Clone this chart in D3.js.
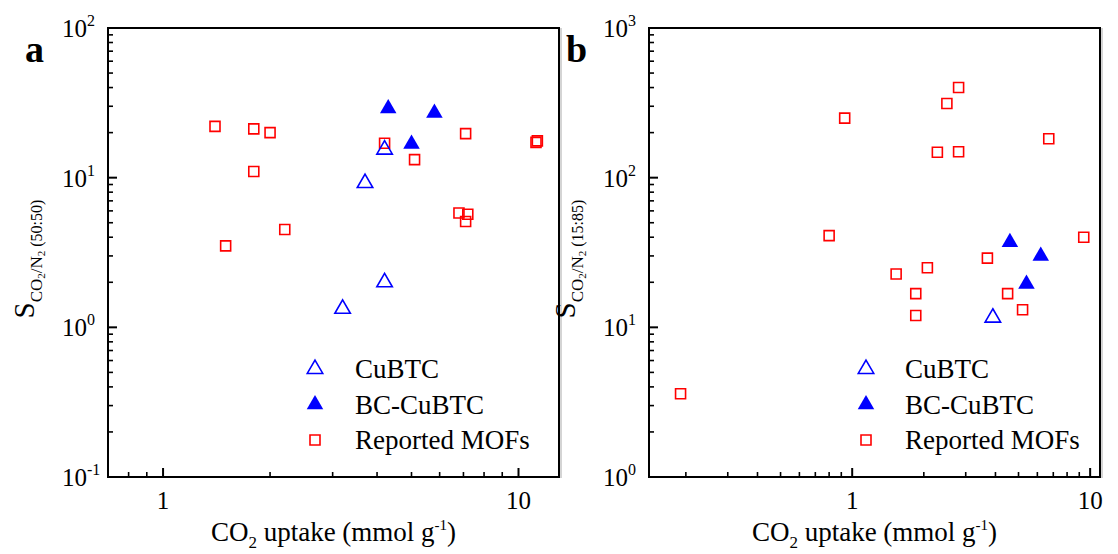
<!DOCTYPE html>
<html>
<head>
<meta charset="utf-8">
<script src="https://cdn.jsdelivr.net/npm/d3@7"></script>
<style>
    html, body { margin: 0; padding: 0; background: #fff; }
    svg { display: block; font-family: "Liberation Serif", "Times New Roman", serif; }
</style>
</head>
<body>
<svg id="chart" width="1118" height="554"></svg>
<script>
// ============================================
// CO2 uptake vs CO2/N2 selectivity, two panels
// ============================================

// Panel a: 50:50 CO2/N2 selectivity  [uptake, selectivity]
const cubtcA = [[4.2, 15.4], [3.7, 9.2], [4.2, 2.0], [3.2, 1.33]];
const bcCubtcA = [[4.3, 29], [5.8, 27], [5.0, 16.8]];
const mofsA = [
    [1.4, 22], [1.8, 21.2], [2.0, 20], [1.8, 11], [1.5, 3.5], [2.2, 4.5],
    [4.2, 17], [5.1, 13.2], [7.1, 19.7], [11.2, 17.2], [11.3, 17.6],
    [6.8, 5.8], [7.2, 5.7], [7.1, 5.1]
];

// Panel b: 15:85 CO2/N2 selectivity
const cubtcB = [[3.9, 11.6]];
const bcCubtcB = [[4.6, 37], [6.2, 30], [5.4, 19.5]];
const mofsB = [
    [0.8, 41], [0.19, 3.6], [0.93, 250], [2.8, 400], [2.5, 313], [2.28, 148],
    [2.8, 149], [6.7, 182], [9.4, 40], [3.7, 29], [2.07, 25], [1.53, 22.7],
    [1.85, 16.8], [1.85, 12], [4.5, 16.8], [5.2, 13.1]
];

const legendLabels = ['CuBTC', 'BC-CuBTC', 'Reported MOFs'];
const xTitle = 'CO2 uptake (mmol g-1)';

const panels = [
    {
        tag: 'a', ratio: '(50:50)',
        left: 108, right: 559, top: 28, bottom: 477,
        xDomain: [0.7, 13], yDomain: [0.1, 100],
        cubtc: cubtcA, bc: bcCubtcA, mofs: mofsA,
        legendX: 207, legendTextX: 247
    },
    {
        tag: 'b', ratio: '(15:85)',
        left: 649, right: 1100, top: 28, bottom: 477,
        xDomain: [0.14, 11], yDomain: [1, 1000],
        cubtc: cubtcB, bc: bcCubtcB, mofs: mofsB,
        legendX: 217, legendTextX: 256
    }
];

const RED = '#ff0000';
const BLUE = '#0000ff';

const svg = d3.select('#chart');

const triangle = d3.symbol(d3.symbolTriangle, 104)();
const triangleFilled = d3.symbol(d3.symbolTriangle, 118)();
const square = d3.symbol(d3.symbolSquare, 100)();

function isPow10(v) {
    const e = Math.log10(v);
    return Math.abs(e - Math.round(e)) < 1e-9;
}

function drawPanel(p) {
    const x = d3.scaleLog().domain(p.xDomain).range([p.left, p.right]);
    const y = d3.scaleLog().domain(p.yDomain).range([p.bottom, p.top]);
    const g = svg.append('g');

    // x ticks (inward)
    const xt = x.ticks().filter(v => v > p.xDomain[0] * 1.001);
    g.append('g').selectAll('line')
        .data(xt)
        .join('line')
        .attr('x1', d => x(d)).attr('x2', d => x(d))
        .attr('y1', p.bottom)
        .attr('y2', d => p.bottom - (isPow10(d) ? 9 : 5))
        .attr('stroke', '#000')
        .attr('stroke-width', d => isPow10(d) ? 2 : 1.6);

    g.append('g').selectAll('text')
        .data(xt.filter(isPow10))
        .join('text')
        .attr('x', d => x(d))
        .attr('y', p.bottom + 32)
        .attr('text-anchor', 'middle')
        .style('font-size', '25px')
        .text(d => d3.format('~g')(d));

    // y ticks (inward)
    const yt = y.ticks();
    g.append('g').selectAll('line')
        .data(yt)
        .join('line')
        .attr('x1', p.left)
        .attr('x2', d => p.left + (isPow10(d) ? 9 : 5))
        .attr('y1', d => y(d)).attr('y2', d => y(d))
        .attr('stroke', '#000')
        .attr('stroke-width', d => isPow10(d) ? 2 : 1.6);

    const ylab = g.append('g').selectAll('text')
        .data(yt.filter(isPow10))
        .join('text')
        .attr('x', p.left - 46)
        .attr('y', d => y(d) + 9)
        .style('font-size', '25px');
    ylab.append('tspan').text('10');
    ylab.append('tspan')
        .attr('dy', -11)
        .style('font-size', '16px')
        .text(d => Math.round(Math.log10(d)));

    // frame
    g.append('line')
        .attr('x1', p.right + 2).attr('x2', p.right + 2)
        .attr('y1', p.top).attr('y2', p.bottom + 1)
        .attr('stroke', '#aaa').attr('stroke-width', 1);
    g.append('rect')
        .attr('x', p.left).attr('y', p.top)
        .attr('width', p.right - p.left)
        .attr('height', p.bottom - p.top)
        .attr('fill', 'none')
        .attr('stroke', '#000')
        .attr('stroke-width', 2);

    // points
    g.append('g').selectAll('path')
        .data(p.mofs)
        .join('path')
        .attr('d', square)
        .attr('transform', d => `translate(${x(d[0])},${y(d[1])})`)
        .attr('fill', 'none')
        .attr('stroke', RED)
        .attr('stroke-width', 1.6);

    g.append('g').selectAll('path')
        .data(p.cubtc)
        .join('path')
        .attr('d', triangle)
        .attr('transform', d => `translate(${x(d[0])},${y(d[1])})`)
        .attr('fill', 'none')
        .attr('stroke', BLUE)
        .attr('stroke-width', 1.6);

    g.append('g').selectAll('path')
        .data(p.bc)
        .join('path')
        .attr('d', triangleFilled)
        .attr('transform', d => `translate(${x(d[0])},${y(d[1])})`)
        .attr('fill', BLUE);

    // legend
    const rows = [
        { d: triangle, fill: 'none', stroke: BLUE },
        { d: triangleFilled, fill: BLUE, stroke: 'none' },
        { d: square, fill: 'none', stroke: RED }
    ];
    const leg = g.append('g').selectAll('g')
        .data(rows)
        .join('g')
        .attr('transform', (d, i) => `translate(${p.left},${369 + i * 35.5})`);
    leg.append('path')
        .attr('d', d => d.d)
        .attr('transform', `translate(${p.legendX},0)`)
        .attr('fill', d => d.fill)
        .attr('stroke', d => d.stroke)
        .attr('stroke-width', 1.6);
    leg.append('text')
        .attr('x', p.legendTextX)
        .attr('y', 9)
        .style('font-size', '27px')
        .text((d, i) => legendLabels[i]);

    // x axis title
    const xt2 = g.append('text')
        .attr('x', (p.left + p.right) / 2)
        .attr('y', 541)
        .attr('text-anchor', 'middle')
        .style('font-size', '27px');
    xt2.append('tspan').text(xTitle.slice(0, 2));
    xt2.append('tspan').attr('dy', 7).style('font-size', '17px').text('2');
    xt2.append('tspan').attr('dy', -7).text(xTitle.slice(3, 18));
    xt2.append('tspan').attr('dy', -11).style('font-size', '15px').text('-1');
    xt2.append('tspan').attr('dy', 11).text(')');

    // y axis title
    const yTitle = g.append('text')
        .attr('transform', `translate(${p.left - 74},${(p.top + p.bottom) / 2 + 66}) rotate(-90)`)
        .style('font-size', '29px');
    yTitle.append('tspan').text('S');
    yTitle.append('tspan').attr('dy', 8).style('font-size', '17px').text('CO');
    yTitle.append('tspan').attr('dy', 3).style('font-size', '11px').text('2');
    yTitle.append('tspan').attr('dy', -3).style('font-size', '17px').text('/N');
    yTitle.append('tspan').attr('dy', 3).style('font-size', '11px').text('2');
    yTitle.append('tspan').attr('dy', -3).style('font-size', '16px').text('\u00a0' + p.ratio);

    // panel tag
    g.append('text')
        .attr('x', p.left - 83)
        .attr('y', 62)
        .style('font-size', '38px')
        .style('font-weight', 'bold')
        .text(p.tag);
}

panels.forEach(drawPanel);
</script>
</body>
</html>
